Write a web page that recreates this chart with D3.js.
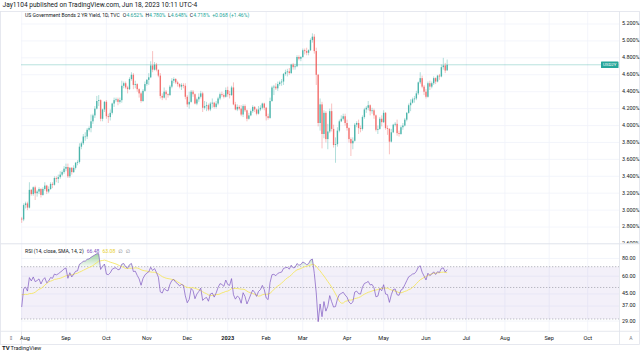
<!DOCTYPE html>
<html>
<head>
<meta charset="utf-8">
<script src="https://cdn.jsdelivr.net/npm/d3@7"></script>
<style>
  body { margin: 0; background: #fff; }
  svg { display: block; font-family: Roboto, "DejaVu Sans", sans-serif; }
</style>
</head>
<body>
<svg id="chart" width="640" height="352"></svg>
<script>
var width  = 640;
var height = 352;

// month labels on the time axis and how many daily bars each month holds
var months    = ["Aug", "Sep", "Oct", "Nov", "Dec", "2023", "Feb", "Mar", "Apr", "May", "Jun", "Jul", "Aug", "Sep", "Oct"];
var monthBars = [23, 21, 21, 21, 21, 20, 19, 23, 19, 22, 21, 20, 23, 20];

var priceTicks = [2.6, 2.8, 3.0, 3.2, 3.4, 3.6, 3.8, 4.0, 4.2, 4.4, 4.6, 4.8, 5.0, 5.2];
var rsiTicks   = [80, 60, 45, 37, 29];
var rsiBands   = [70, 50, 30];

// closes before the first visible bar (off screen), only used to seed the RSI
var warmup = [3.20, 3.18, 3.17, 3.20, 3.06, 3.06, 3.06, 3.11, 3.10, 3.04, 2.92,
              2.84, 2.80, 2.98, 3.01, 3.11, 3.07, 3.05, 3.15, 3.13, 3.13, 3.16,
              3.23, 3.23, 3.10, 2.99, 3.03, 3.06, 2.99, 2.87, 2.88];

// daily [open, high, low, close], Aug 1 2022 .. Jun 16 2023
var bars = [
  // Aug 2022
  [2.90,2.92,2.85,2.89],[2.89,3.08,2.87,3.06],[3.06,3.10,3.02,3.08],[3.08,3.10,3.00,3.03],
  [3.03,3.33,3.02,3.24],[3.24,3.25,3.17,3.19],[3.19,3.28,3.17,3.27],[3.27,3.29,3.12,3.20],
  [3.20,3.24,3.16,3.22],[3.22,3.27,3.19,3.25],[3.25,3.26,3.15,3.18],[3.18,3.27,3.17,3.25],
  [3.25,3.33,3.23,3.29],[3.29,3.30,3.19,3.22],[3.22,3.28,3.20,3.25],[3.25,3.33,3.24,3.31],
  [3.31,3.33,3.26,3.30],[3.30,3.40,3.29,3.38],[3.38,3.40,3.33,3.37],[3.37,3.42,3.32,3.39],
  [3.39,3.46,3.37,3.42],[3.42,3.47,3.40,3.45],[3.45,3.52,3.43,3.49],
  // Sep
  [3.49,3.55,3.46,3.51],[3.51,3.55,3.38,3.40],[3.40,3.51,3.38,3.50],[3.50,3.51,3.42,3.45],
  [3.45,3.53,3.44,3.50],[3.50,3.57,3.48,3.56],[3.56,3.59,3.53,3.57],[3.57,3.79,3.55,3.75],
  [3.75,3.81,3.72,3.79],[3.79,3.90,3.77,3.87],[3.87,3.92,3.82,3.87],[3.87,3.97,3.84,3.95],
  [3.95,3.99,3.93,3.97],[3.97,4.13,3.92,4.05],[4.05,4.14,4.02,4.12],[4.12,4.23,4.09,4.20],
  [4.20,4.35,4.19,4.29],[4.29,4.36,4.23,4.30],[4.30,4.31,4.05,4.08],[4.08,4.20,4.05,4.19],
  [4.19,4.29,4.16,4.28],
  // Oct
  [4.28,4.30,4.08,4.11],[4.11,4.14,4.03,4.10],[4.10,4.19,4.06,4.15],[4.15,4.27,4.13,4.26],
  [4.26,4.33,4.22,4.30],[4.30,4.33,4.28,4.31],[4.31,4.33,4.24,4.28],[4.28,4.33,4.26,4.30],
  [4.30,4.53,4.27,4.47],[4.47,4.52,4.44,4.50],[4.50,4.52,4.43,4.45],[4.45,4.47,4.38,4.43],
  [4.43,4.57,4.42,4.55],[4.55,4.63,4.53,4.60],[4.60,4.62,4.43,4.48],[4.48,4.53,4.44,4.49],
  [4.49,4.50,4.40,4.43],[4.43,4.44,4.33,4.38],[4.38,4.40,4.27,4.29],[4.29,4.43,4.28,4.41],
  [4.41,4.52,4.40,4.49],
  // Nov
  [4.49,4.55,4.47,4.54],[4.54,4.62,4.48,4.57],[4.57,4.76,4.56,4.71],[4.71,4.88,4.63,4.66],
  [4.66,4.75,4.65,4.72],[4.72,4.74,4.64,4.66],[4.66,4.66,4.57,4.59],[4.59,4.62,4.32,4.35],
  [4.35,4.38,4.30,4.33],[4.33,4.45,4.32,4.40],[4.40,4.42,4.30,4.37],[4.37,4.38,4.33,4.36],
  [4.36,4.48,4.35,4.46],[4.46,4.56,4.44,4.53],[4.53,4.57,4.50,4.55],[4.55,4.56,4.49,4.51],
  [4.51,4.53,4.46,4.49],[4.49,4.50,4.44,4.46],[4.46,4.50,4.42,4.48],[4.48,4.50,4.44,4.47],
  [4.47,4.50,4.31,4.34],
  // Dec
  [4.34,4.36,4.22,4.25],[4.25,4.40,4.20,4.28],[4.28,4.42,4.27,4.40],[4.40,4.42,4.34,4.37],
  [4.37,4.38,4.25,4.26],[4.26,4.33,4.24,4.31],[4.31,4.38,4.28,4.34],[4.34,4.41,4.32,4.38],
  [4.38,4.40,4.16,4.21],[4.21,4.29,4.19,4.23],[4.23,4.28,4.17,4.24],[4.24,4.26,4.17,4.19],
  [4.19,4.28,4.17,4.26],[4.26,4.32,4.21,4.27],[4.27,4.28,4.20,4.22],[4.22,4.29,4.20,4.26],
  [4.26,4.34,4.24,4.32],[4.32,4.39,4.30,4.37],[4.37,4.40,4.34,4.36],[4.36,4.38,4.32,4.34],
  [4.34,4.45,4.33,4.42],
  // Jan 2023
  [4.42,4.46,4.34,4.37],[4.37,4.41,4.32,4.36],[4.36,4.47,4.35,4.45],[4.45,4.51,4.24,4.25],
  [4.25,4.28,4.18,4.19],[4.19,4.25,4.17,4.22],[4.22,4.24,4.18,4.20],[4.20,4.24,4.11,4.13],
  [4.13,4.25,4.10,4.23],[4.23,4.25,4.16,4.18],[4.18,4.19,4.05,4.08],[4.08,4.15,4.07,4.12],
  [4.12,4.19,4.11,4.17],[4.17,4.24,4.15,4.22],[4.22,4.23,4.16,4.19],[4.19,4.20,4.12,4.14],
  [4.14,4.23,4.13,4.19],[4.19,4.24,4.17,4.21],[4.21,4.27,4.19,4.26],[4.26,4.27,4.18,4.21],
  // Feb
  [4.21,4.22,4.06,4.11],[4.11,4.14,4.07,4.09],[4.09,4.33,4.08,4.29],[4.29,4.47,4.28,4.45],
  [4.45,4.48,4.36,4.46],[4.46,4.50,4.42,4.44],[4.44,4.52,4.41,4.49],[4.49,4.53,4.47,4.51],
  [4.51,4.55,4.47,4.52],[4.52,4.62,4.48,4.61],[4.61,4.66,4.59,4.63],[4.63,4.67,4.58,4.64],
  [4.64,4.68,4.60,4.62],[4.62,4.73,4.61,4.72],[4.72,4.74,4.66,4.69],[4.69,4.73,4.66,4.70],
  [4.70,4.83,4.69,4.81],[4.81,4.83,4.77,4.79],[4.79,4.82,4.76,4.81],
  // Mar
  [4.81,4.91,4.80,4.89],[4.89,4.91,4.84,4.88],[4.88,4.92,4.83,4.86],[4.86,4.90,4.83,4.89],
  [4.89,5.03,4.88,5.01],[5.01,5.09,4.98,5.05],[5.05,5.08,4.85,4.88],[4.88,4.92,4.48,4.60],
  [4.60,4.61,3.99,4.03],[4.03,4.32,3.94,4.25],[4.25,4.28,3.73,3.90],[3.90,4.18,3.85,4.15],
  [4.15,4.17,3.80,3.84],[3.84,4.02,3.72,3.93],[3.93,4.20,3.91,4.17],[4.17,4.26,3.93,3.96],
  [3.96,4.01,3.74,3.77],[3.77,3.86,3.56,3.78],[3.78,3.98,3.75,3.94],[3.94,4.07,3.92,4.05],
  [4.05,4.12,4.04,4.08],[4.08,4.14,4.06,4.11],[4.11,4.14,4.00,4.03],
  // Apr
  [4.03,4.07,3.94,3.97],[3.97,3.98,3.80,3.84],[3.84,3.86,3.64,3.79],[3.79,3.86,3.72,3.82],
  [3.82,4.03,3.81,4.01],[4.01,4.05,3.98,4.03],[4.03,4.07,3.90,3.97],[3.97,4.00,3.92,3.96],
  [3.96,4.12,3.94,4.10],[4.10,4.21,4.08,4.19],[4.19,4.23,4.15,4.21],[4.21,4.29,4.18,4.24],
  [4.24,4.25,4.12,4.17],[4.17,4.21,4.14,4.18],[4.18,4.20,4.08,4.12],[4.12,4.13,3.93,3.95],
  [3.95,4.00,3.90,3.96],[3.96,4.10,3.95,4.08],[4.08,4.12,3.99,4.04],
  // May
  [4.04,4.18,4.03,4.15],[4.15,4.16,3.95,3.97],[3.97,4.00,3.89,3.96],[3.96,3.97,3.66,3.81],
  [3.81,3.96,3.80,3.92],[3.92,4.02,3.91,4.01],[4.01,4.04,3.99,4.02],[4.02,4.07,3.88,3.91],
  [3.91,3.94,3.87,3.90],[3.90,4.00,3.89,3.98],[3.98,4.03,3.95,4.00],[4.00,4.09,3.99,4.07],
  [4.07,4.16,4.05,4.15],[4.15,4.26,4.14,4.24],[4.24,4.31,4.17,4.27],[4.27,4.33,4.26,4.31],
  [4.31,4.35,4.27,4.32],[4.32,4.41,4.30,4.38],[4.38,4.52,4.36,4.51],[4.51,4.63,4.49,4.56],
  [4.56,4.59,4.44,4.46],[4.46,4.48,4.36,4.40],
  // Jun
  [4.40,4.43,4.32,4.34],[4.34,4.52,4.33,4.50],[4.50,4.53,4.42,4.46],[4.46,4.52,4.44,4.50],
  [4.50,4.58,4.48,4.56],[4.56,4.57,4.49,4.52],[4.52,4.60,4.51,4.59],[4.59,4.61,4.54,4.58],
  [4.58,4.72,4.57,4.69],[4.69,4.80,4.66,4.71],[4.71,4.74,4.62,4.65],[4.652,4.780,4.648,4.718]
];

var upColor   = "#26a69a";
var downColor = "#ef5350";
var textColor = "#131722";
var gridColor = "#f0f3fa";
var lineColor = "#e0e3eb";

var plotL = 21, plotR = 619;
var priceTop = 12, priceBot = 243.5;
var rsiTop = 244, rsiBot = 331, axisBot = 344.5;

var svg = d3.select("#chart");

var monthIdx = [0];
monthBars.forEach(function(n, i) { monthIdx.push(monthIdx[i] + n); });

var x  = d3.scaleLinear().domain([0, monthIdx[monthIdx.length - 1]]).range([21.7, 587.7]);
var y  = d3.scaleLinear().domain([2.6, 5.2]).range([244, 24]);
var yR = d3.scaleLog().domain([30, 70]).range([319, 266.7]);

var defs = svg.append("defs");
defs.append("clipPath").attr("id", "clipPrice")
  .append("rect").attr("x", plotL).attr("y", priceTop).attr("width", plotR - plotL).attr("height", priceBot - priceTop);
defs.append("clipPath").attr("id", "clipRsi")
  .append("rect").attr("x", plotL).attr("y", rsiTop).attr("width", plotR - plotL).attr("height", rsiBot - rsiTop);
defs.append("clipPath").attr("id", "clipPriceAxis")
  .append("rect").attr("x", plotR).attr("y", priceTop).attr("width", width - plotR).attr("height", priceBot - priceTop);

var gOb = defs.append("linearGradient").attr("id", "gradOb").attr("gradientUnits", "userSpaceOnUse")
  .attr("x1", 0).attr("x2", 0).attr("y1", yR(95)).attr("y2", yR(70));
gOb.append("stop").attr("offset", 0).attr("stop-color", "#4caf50").attr("stop-opacity", 0.75);
gOb.append("stop").attr("offset", 1).attr("stop-color", "#4caf50").attr("stop-opacity", 0.05);
var gOs = defs.append("linearGradient").attr("id", "gradOs").attr("gradientUnits", "userSpaceOnUse")
  .attr("x1", 0).attr("x2", 0).attr("y1", yR(30)).attr("y2", yR(22));
gOs.append("stop").attr("offset", 0).attr("stop-color", "#f23645").attr("stop-opacity", 0.05);
gOs.append("stop").attr("offset", 1).attr("stop-color", "#f23645").attr("stop-opacity", 0.75);

// lays out a row of [text, colour, gapBefore] pieces one after another
function textRow(parent, x0, y0, size, pieces) {
  var g = parent.append("g").style("font-size", size + "px").attr("dominant-baseline", "middle");
  var cx = x0;
  pieces.forEach(function(p) {
    cx += p[2] || 0;
    var t = g.append("text").attr("x", cx).attr("y", y0).attr("fill", p[1]).text(p[0]);
    cx += t.node().getComputedTextLength();
  });
  return g;
}

// ---- header text
svg.append("text").attr("x", 2.5).attr("y", 5)
  .attr("dominant-baseline", "middle").style("font-size", "6.6px").attr("fill", textColor)
  .text("Jay1104 published on TradingView.com, Jun 18, 2023 10:11 UTC-4");

// ---- frame
svg.append("rect").attr("x", 0.5).attr("y", 11.5).attr("width", width - 1).attr("height", axisBot - 11.5)
  .attr("fill", "none").attr("stroke", lineColor).attr("stroke-width", 0.8);

// ---- grid
var grid = svg.append("g");
grid.selectAll(".vg").data(monthIdx).enter().append("line")
  .attr("x1", function(d) { return x(d); }).attr("x2", function(d) { return x(d); })
  .attr("y1", priceTop).attr("y2", rsiBot)
  .attr("stroke", gridColor).attr("stroke-width", 0.8);
grid.selectAll(".hg").data(priceTicks).enter().append("line")
  .attr("x1", plotL).attr("x2", plotR)
  .attr("y1", function(d) { return y(d); }).attr("y2", function(d) { return y(d); })
  .attr("stroke", gridColor).attr("stroke-width", 0.8)
  .attr("clip-path", "url(#clipPrice)");
grid.selectAll(".rg").data(rsiTicks).enter().append("line")
  .attr("x1", plotL).attr("x2", plotR)
  .attr("y1", function(d) { return yR(d); }).attr("y2", function(d) { return yR(d); })
  .attr("stroke", gridColor).attr("stroke-width", 0.8);

// ---- last price line (under the candles)
var last = bars[bars.length - 1][3];
svg.append("line").attr("x1", plotL).attr("x2", plotR)
  .attr("y1", y(last)).attr("y2", y(last))
  .attr("stroke", upColor).attr("stroke-width", 0.6).attr("stroke-opacity", 0.55);

// ---- candles
var candles = svg.append("g").attr("clip-path", "url(#clipPrice)")
  .selectAll("g").data(bars).enter().append("g");
candles.append("line")
  .attr("x1", function(d, i) { return x(i); }).attr("x2", function(d, i) { return x(i); })
  .attr("y1", function(d) { return y(d[1]); }).attr("y2", function(d) { return y(d[2]); })
  .attr("stroke", function(d) { return d[3] >= d[0] ? upColor : downColor; })
  .attr("stroke-width", 0.6).attr("stroke-opacity", 0.6);
candles.append("rect")
  .attr("x", function(d, i) { return x(i) - 0.7; })
  .attr("width", 1.4)
  .attr("y", function(d) { return y(Math.max(d[0], d[3])); })
  .attr("height", function(d) { return Math.max(0.6, Math.abs(y(d[0]) - y(d[3]))); })
  .attr("fill", function(d) { return d[3] >= d[0] ? upColor : downColor; })
  .attr("fill-opacity", 0.75);

// ---- symbol label at the right end of the price line
svg.append("rect").attr("x", 601).attr("y", y(last) - 3.3).attr("width", 17.5).attr("height", 6.6)
  .attr("rx", 0.6).attr("fill", upColor);
svg.append("text").attr("x", 609.75).attr("y", y(last) + 0.2)
  .attr("text-anchor", "middle").attr("dominant-baseline", "middle")
  .style("font-size", "4.4px").attr("fill", "#fff").text("USD2Y");

// ---- price legend
textRow(svg, 25, 15.8, 5.1, [
  ["US Government Bonds 2 YR Yield, 1D, TVC", textColor],
  ["O", textColor, 3], ["4.652%", upColor],
  ["H", textColor, 2.5], ["4.780%", upColor],
  ["L", textColor, 2.5], ["4.648%", upColor],
  ["C", textColor, 2.5], ["4.718%", upColor],
  ["+0.068 (+1.46%)", upColor, 2.5]
]);

// ---- price axis
svg.append("line").attr("x1", plotR + 0.5).attr("x2", plotR + 0.5).attr("y1", 11.5).attr("y2", axisBot)
  .attr("stroke", lineColor).attr("stroke-width", 0.8);
svg.append("g").attr("clip-path", "url(#clipPriceAxis)")
  .selectAll("text").data(priceTicks).enter().append("text")
  .attr("x", 622).attr("y", function(d) { return y(d); })
  .attr("dominant-baseline", "middle").style("font-size", "5.4px").attr("fill", textColor)
  .text(function(d) { return d.toFixed(3) + "%"; });

// ---- pane separator
svg.append("line").attr("x1", 0.5).attr("x2", width - 0.5).attr("y1", priceBot + 0.3).attr("y2", priceBot + 0.3)
  .attr("stroke", lineColor).attr("stroke-width", 1);

// ---- RSI (14) on close, with a 14 bar SMA of it
var closes = warmup.concat(bars.map(function(d) { return d[3]; }));
function calcRsi(src, len) {
  var out = [], up = 0, dn = 0;
  for (var i = 1; i < src.length; i++) {
    var ch = src[i] - src[i - 1];
    var u = Math.max(ch, 0), d = Math.max(-ch, 0);
    if (i <= len) {
      up += u / len; dn += d / len;
      if (i < len) { out[i] = null; continue; }
    } else {
      up = (up * (len - 1) + u) / len;
      dn = (dn * (len - 1) + d) / len;
    }
    out[i] = dn === 0 ? 100 : 100 - 100 / (1 + up / dn);
  }
  return out;
}
var rsiAll = calcRsi(closes, 14);
var smaAll = rsiAll.map(function(v, i) {
  var win = rsiAll.slice(i - 13, i + 1);
  if (i < 13 || win.some(function(w) { return w == null; })) return null;
  return d3.mean(win);
});
var rsi = rsiAll.slice(warmup.length);
var sma = smaAll.slice(warmup.length);

var rsiG = svg.append("g").attr("clip-path", "url(#clipRsi)");
rsiG.append("rect").attr("x", plotL).attr("width", plotR - plotL)
  .attr("y", yR(70)).attr("height", yR(30) - yR(70))
  .attr("fill", "#7e57c2").attr("fill-opacity", 0.09);
rsiG.selectAll(".band").data(rsiBands).enter().append("line")
  .attr("x1", plotL).attr("x2", plotR)
  .attr("y1", function(d) { return yR(d); }).attr("y2", function(d) { return yR(d); })
  .attr("stroke", "#787b86").attr("stroke-width", 0.7).attr("stroke-opacity", 0.7)
  .attr("stroke-dasharray", "1.3,1.7");

rsiG.append("path").datum(rsi)
  .attr("d", d3.area().x(function(d, i) { return x(i); })
    .y0(yR(70)).y1(function(d) { return yR(Math.max(d, 70)); }))
  .attr("fill", "url(#gradOb)");
rsiG.append("path").datum(rsi)
  .attr("d", d3.area().x(function(d, i) { return x(i); })
    .y0(yR(30)).y1(function(d) { return yR(Math.min(d, 30)); }))
  .attr("fill", "url(#gradOs)");

rsiG.append("path").datum(sma)
  .attr("d", d3.line().defined(function(d) { return d != null; })
    .x(function(d, i) { return x(i); }).y(function(d) { return yR(d); }))
  .attr("fill", "none").attr("stroke", "#f5e663").attr("stroke-width", 0.9);
rsiG.append("path").datum(rsi)
  .attr("d", d3.line().x(function(d, i) { return x(i); }).y(function(d) { return yR(d); }))
  .attr("fill", "none").attr("stroke", "#7e57c2").attr("stroke-width", 0.7);

// RSI legend
textRow(svg, 25, 251.5, 5.1, [
  ["RSI (14, close, SMA, 14, 2)", textColor],
  ["66.48", "#7e57c2", 3],
  ["63.08", "#e8cf2a", 3],
  ["∅", "#787b86", 3],
  ["∅", "#787b86", 3]
]);

// RSI axis
svg.append("g").selectAll("text").data(rsiTicks).enter().append("text")
  .attr("x", 622).attr("y", function(d) { return yR(d); })
  .attr("dominant-baseline", "middle").style("font-size", "5.4px").attr("fill", textColor)
  .text(function(d) { return d.toFixed(2); });

// ---- time axis
svg.append("line").attr("x1", 0.5).attr("x2", width - 0.5).attr("y1", rsiBot + 0.3).attr("y2", rsiBot + 0.3)
  .attr("stroke", lineColor).attr("stroke-width", 0.8);
svg.append("line").attr("x1", plotL + 0.5).attr("x2", plotL + 0.5).attr("y1", rsiBot).attr("y2", axisBot)
  .attr("stroke", lineColor).attr("stroke-width", 0.8);
svg.append("g").selectAll("text").data(months).enter().append("text")
  .attr("x", function(d, i) { return Math.max(x(monthIdx[i]), plotL + 4); })
  .attr("y", 338.2)
  .attr("text-anchor", "middle").attr("dominant-baseline", "middle")
  .style("font-size", "5.6px").style("font-weight", function(d) { return d === "2023" ? "bold" : null; })
  .attr("fill", textColor)
  .text(function(d) { return d; });
svg.append("text").attr("x", 11).attr("y", 338.2).attr("text-anchor", "middle").attr("dominant-baseline", "middle")
  .style("font-size", "5.5px").attr("fill", "#787b86").text("⇕");
svg.append("text").attr("x", 631).attr("y", 338.2).attr("text-anchor", "middle").attr("dominant-baseline", "middle")
  .style("font-size", "5px").attr("fill", "#787b86").text("A");

// ---- footer logo
svg.append("text").attr("x", 2).attr("y", 348.5).attr("dominant-baseline", "middle")
  .style("font-size", "6px").style("font-weight", "bold").attr("fill", textColor).text("TV");
svg.append("text").attr("x", 10.5).attr("y", 348.5).attr("dominant-baseline", "middle")
  .style("font-size", "5.6px").attr("fill", textColor).text("TradingView");
</script>
</body>
</html>
